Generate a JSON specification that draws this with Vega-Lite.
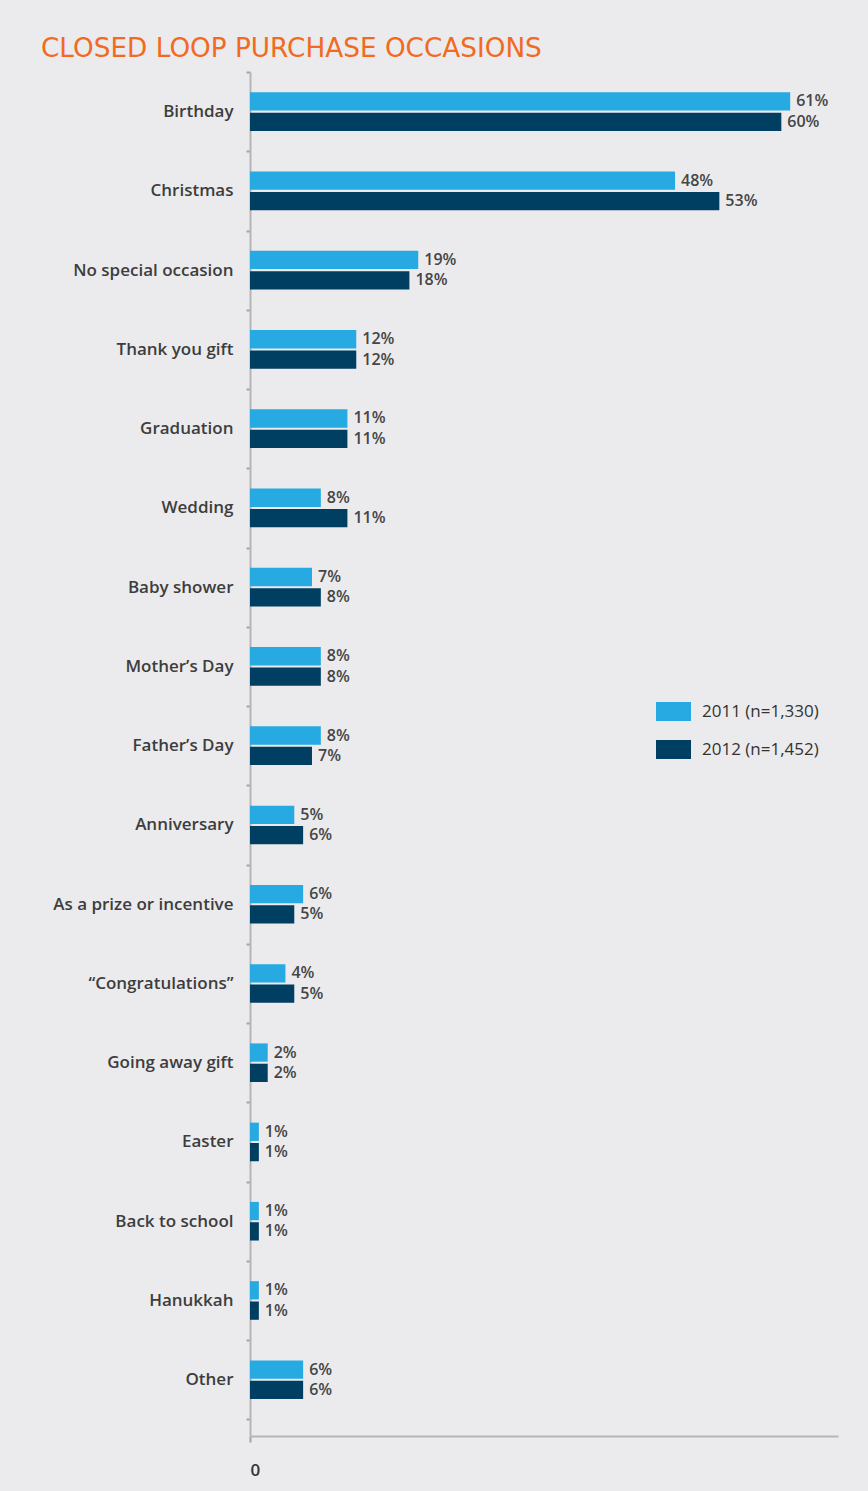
{
  "$schema": "https://vega.github.io/schema/vega-lite/v6.json",
  "width": 588,
  "height": 1364,
  "autosize": {"type": "none"},
  "padding": {"left": 250, "top": 72, "right": 30, "bottom": 55},
  "background": "#ebebed",
  "config": {"view": {"stroke": null}, "font": "Open Sans"},
  "title": {
    "text": "CLOSED LOOP PURCHASE OCCASIONS",
    "anchor": "start",
    "frame": "group",
    "dx": -209,
    "dy": 35,
    "offset": 15,
    "baseline": "alphabetic",
    "fontSize": 26.3,
    "fontWeight": "normal",
    "color": "#f26a21",
    "font": "DejaVu Sans"
  },
  "data": {
    "values": [
      {"occasion": "Birthday", "year": "2011 (n=1,330)", "value": 0.61},
      {"occasion": "Birthday", "year": "2012 (n=1,452)", "value": 0.60},
      {"occasion": "Christmas", "year": "2011 (n=1,330)", "value": 0.48},
      {"occasion": "Christmas", "year": "2012 (n=1,452)", "value": 0.53},
      {"occasion": "No special occasion", "year": "2011 (n=1,330)", "value": 0.19},
      {"occasion": "No special occasion", "year": "2012 (n=1,452)", "value": 0.18},
      {"occasion": "Thank you gift", "year": "2011 (n=1,330)", "value": 0.12},
      {"occasion": "Thank you gift", "year": "2012 (n=1,452)", "value": 0.12},
      {"occasion": "Graduation", "year": "2011 (n=1,330)", "value": 0.11},
      {"occasion": "Graduation", "year": "2012 (n=1,452)", "value": 0.11},
      {"occasion": "Wedding", "year": "2011 (n=1,330)", "value": 0.08},
      {"occasion": "Wedding", "year": "2012 (n=1,452)", "value": 0.11},
      {"occasion": "Baby shower", "year": "2011 (n=1,330)", "value": 0.07},
      {"occasion": "Baby shower", "year": "2012 (n=1,452)", "value": 0.08},
      {"occasion": "Mother’s Day", "year": "2011 (n=1,330)", "value": 0.08},
      {"occasion": "Mother’s Day", "year": "2012 (n=1,452)", "value": 0.08},
      {"occasion": "Father’s Day", "year": "2011 (n=1,330)", "value": 0.08},
      {"occasion": "Father’s Day", "year": "2012 (n=1,452)", "value": 0.07},
      {"occasion": "Anniversary", "year": "2011 (n=1,330)", "value": 0.05},
      {"occasion": "Anniversary", "year": "2012 (n=1,452)", "value": 0.06},
      {"occasion": "As a prize or incentive", "year": "2011 (n=1,330)", "value": 0.06},
      {"occasion": "As a prize or incentive", "year": "2012 (n=1,452)", "value": 0.05},
      {"occasion": "“Congratulations”", "year": "2011 (n=1,330)", "value": 0.04},
      {"occasion": "“Congratulations”", "year": "2012 (n=1,452)", "value": 0.05},
      {"occasion": "Going away gift", "year": "2011 (n=1,330)", "value": 0.02},
      {"occasion": "Going away gift", "year": "2012 (n=1,452)", "value": 0.02},
      {"occasion": "Easter", "year": "2011 (n=1,330)", "value": 0.01},
      {"occasion": "Easter", "year": "2012 (n=1,452)", "value": 0.01},
      {"occasion": "Back to school", "year": "2011 (n=1,330)", "value": 0.01},
      {"occasion": "Back to school", "year": "2012 (n=1,452)", "value": 0.01},
      {"occasion": "Hanukkah", "year": "2011 (n=1,330)", "value": 0.01},
      {"occasion": "Hanukkah", "year": "2012 (n=1,452)", "value": 0.01},
      {"occasion": "Other", "year": "2011 (n=1,330)", "value": 0.06},
      {"occasion": "Other", "year": "2012 (n=1,452)", "value": 0.06}
    ]
  },
  "encoding": {
    "y": {
      "field": "occasion",
      "type": "nominal",
      "sort": null,
      "scale": {"paddingInner": 0, "paddingOuter": 0.105, "align": 0},
      "axis": {
        "title": null,
        "grid": false,
        "tickBand": "extent",
        "labelFontSize": 17,
        "labelFontWeight": 600,
        "labelColor": "#3d3d3d",
        "labelPadding": 13,
        "labelLimit": 300,
        "tickSize": 4,
        "tickWidth": 2,
        "tickColor": "#a5a5a5",
        "domainColor": "#b5b5b5",
        "domainWidth": 2
      }
    },
    "yOffset": {
      "field": "year",
      "type": "nominal",
      "scale": {"paddingInner": 0.1, "paddingOuter": 1.136}
    },
    "x": {
      "field": "value",
      "type": "quantitative",
      "scale": {"domain": [0, 0.664], "nice": false},
      "axis": {
        "title": null,
        "grid": false,
        "values": [0],
        "format": "d",
        "tickSize": 6,
        "tickWidth": 2,
        "tickColor": "#a5a5a5",
        "domainColor": "#b5b5b5",
        "domainWidth": 2,
        "labelFontSize": 17,
        "labelFontWeight": 600,
        "labelColor": "#333333",
        "labelPadding": 20
      }
    }
  },
  "layer": [
    {
      "mark": {"type": "bar"},
      "encoding": {
        "color": {
          "field": "year",
          "type": "nominal",
          "scale": {"range": ["#27a9e1", "#003e62"]},
          "legend": {
            "title": null,
            "orient": "none",
            "legendX": 406,
            "legendY": 622,
            "symbolType": "M-1,-0.54H1V0.54H-1Z",
            "symbolSize": 1225,
            "symbolStrokeWidth": 0,
            "labelFontSize": 17,
            "labelColor": "#333333",
            "labelOffset": 11,
            "rowPadding": 11
          }
        }
      }
    },
    {
      "mark": {"type": "text", "align": "left", "baseline": "middle", "dx": 6, "fontSize": 16, "fontWeight": 600, "color": "#454545"},
      "encoding": {
        "text": {"field": "value", "type": "quantitative", "format": ".0%"}
      }
    }
  ]
}
